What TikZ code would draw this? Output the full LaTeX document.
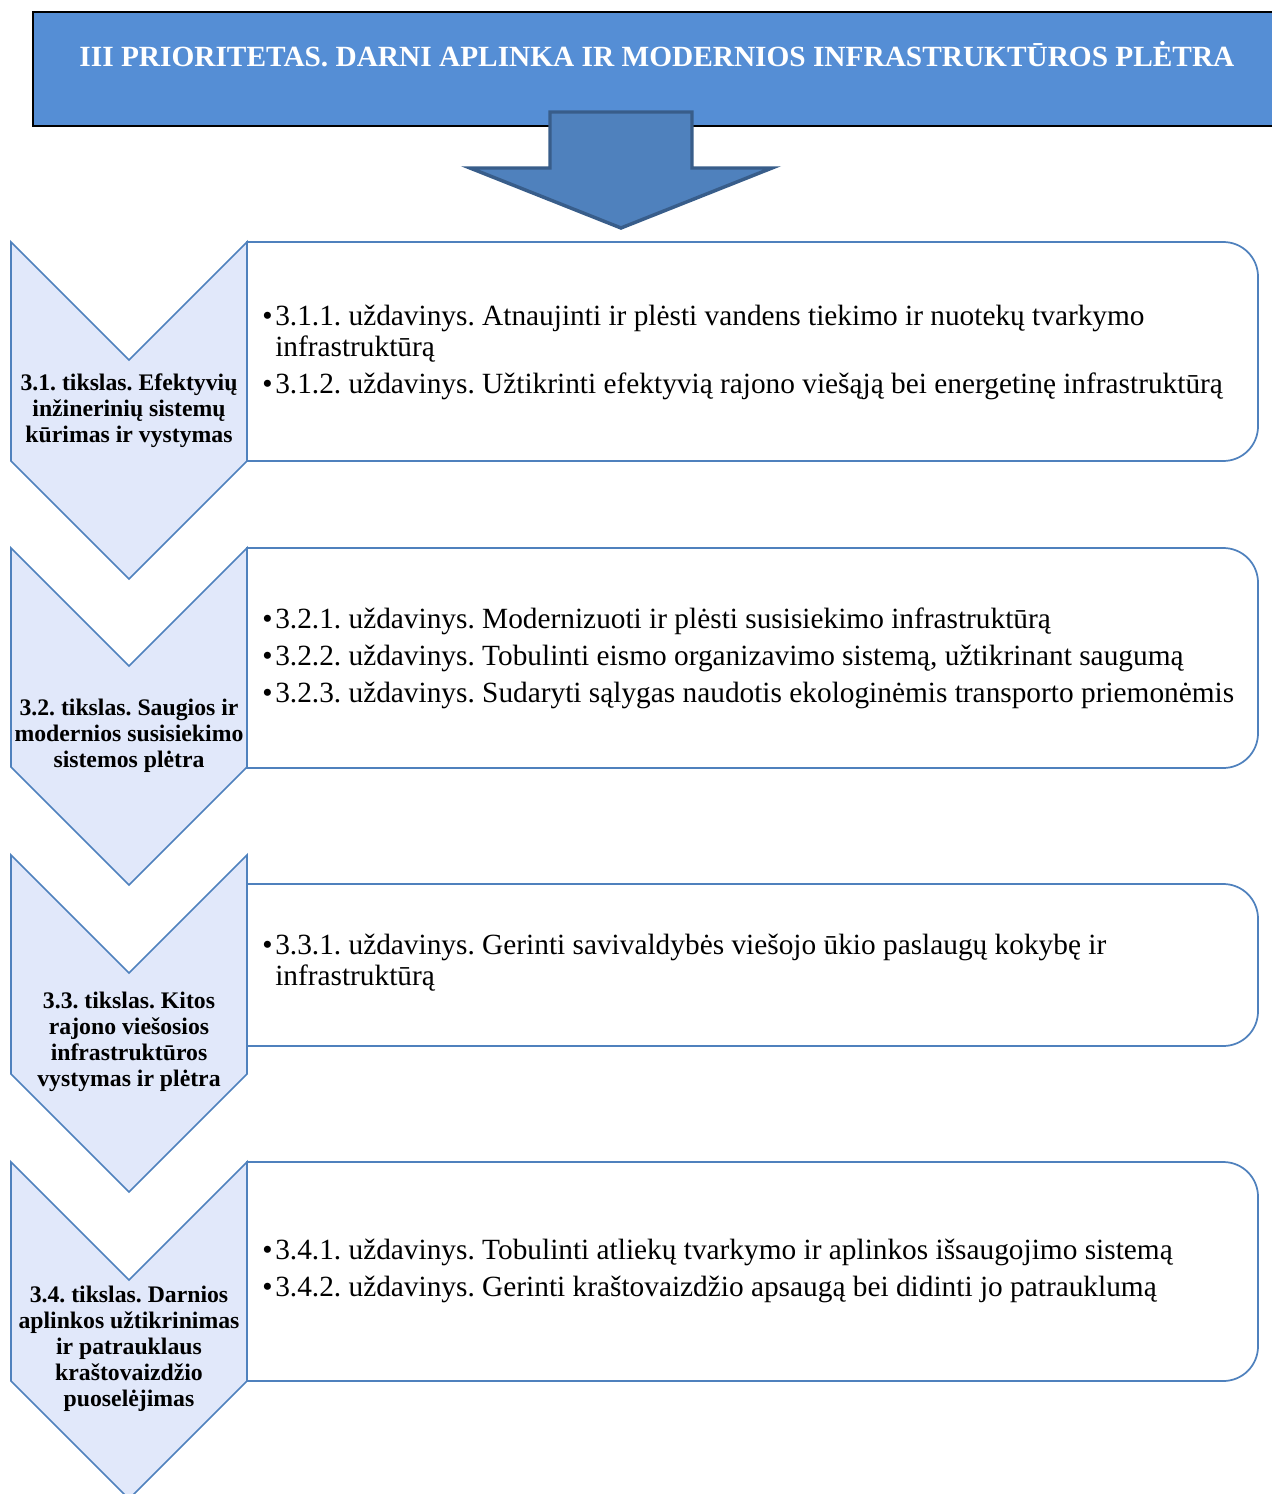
\documentclass[tikz,border=0pt]{standalone}
\usepackage{fontspec}
\setmainfont{Liberation Serif}
\usetikzlibrary{positioning}
\definecolor{headblue}{RGB}{85,142,213}
\definecolor{arrowblue}{RGB}{79,129,189}
\definecolor{arrowdark}{RGB}{56,93,138}
\definecolor{chevfill}{RGB}{225,232,250}
\tikzstyle{head}=[draw=black,fill=headblue,line width=1pt]
\tikzstyle{bigarrow}=[draw=arrowdark,fill=arrowblue,line width=2.6pt,line join=miter]
\tikzstyle{chev}=[draw=arrowblue,fill=chevfill,line width=1.3pt,line join=miter]
\tikzstyle{tbox}=[draw=arrowblue,fill=white,line width=1.3pt]
\tikzstyle{title}=[text=white,font=\bfseries\fontsize{22}{26}\selectfont,inner sep=0pt]
\tikzstyle{goal}=[align=center,font=\bfseries\fontsize{17.8}{19.5}\selectfont,inner sep=0pt]
\tikzstyle{task}=[align=left,anchor=west,font=\fontsize{22}{23.25}\selectfont,inner sep=0pt]
\newcommand{\bul}{\makebox[9.75pt][l]{\textbullet}}
\newcommand{\hang}{\hspace*{9.75pt}}
\frenchspacing

\begin{document}
\begin{tikzpicture}[x=0.75pt,y=-0.75pt]
  \useasboundingbox (0,0) rectangle (1271,1494);

  % priority header and arrow
  \draw[head] (33,12) rectangle (1290,126);
  \node[title] (prio) at (657,54) {III PRIORITETAS. DARNI APLINKA IR MODERNIOS INFRASTRUKTŪROS PLĖTRA};
  \draw[bigarrow] (550,112) -- (692,112) -- (692,168) -- (772,168) -- (621,228) -- (470,168) -- (550,168) -- cycle;

  % task boxes
  \foreach \t/\b in {242/461,548/768,884/1046,1162/1381}
    \draw[tbox] (247,\b) -- (247,\t) [rounded corners=26pt] -- (1258,\t) -- (1258,\b) [sharp corners] -- cycle;

  % goal chevrons
  \foreach \t in {242,548,855,1162}
    \draw[chev] (11,\t) -- (129,\t+118) -- (247,\t) -- (247,\t+219) -- (129,\t+337) -- (11,\t+219) -- cycle;

  \node[goal] (g1) at (129,411) {3.1. tikslas. Efektyvių\\inžinerinių sistemų\\kūrimas ir vystymas};
  \node[goal] (g2) at (129,736) {3.2. tikslas. Saugios ir\\modernios susisiekimo\\sistemos plėtra};
  \node[goal] (g3) at (129,1042) {3.3. tikslas. Kitos\\rajono viešosios\\infrastruktūros\\vystymas ir plėtra};
  \node[goal] (g4) at (129,1349) {3.4. tikslas. Darnios\\aplinkos užtikrinimas\\ir patrauklaus\\kraštovaizdžio\\puoselėjimas};

  \node[task] (t1) at (262,352) {\bul 3.1.1. uždavinys. Atnaujinti ir plėsti vandens tiekimo ir nuotekų tvarkymo\\\hang infrastruktūrą\\[4.5pt]\bul 3.1.2. uždavinys. Užtikrinti efektyvią rajono viešąją bei energetinę infrastruktūrą};
  \node[task] (t2) at (262,658) {\bul 3.2.1. uždavinys. Modernizuoti ir plėsti susisiekimo infrastruktūrą\\[4.5pt]\bul 3.2.2. uždavinys. Tobulinti eismo organizavimo sistemą, užtikrinant saugumą\\[4.5pt]\bul 3.2.3. uždavinys. Sudaryti sąlygas naudotis ekologinėmis transporto priemonėmis};
  \node[task] (t3) at (262,963) {\bul 3.3.1. uždavinys. Gerinti savivaldybės viešojo ūkio paslaugų kokybę ir\\\hang infrastruktūrą};
  \node[task] (t4) at (262,1271) {\bul 3.4.1. uždavinys. Tobulinti atliekų tvarkymo ir aplinkos išsaugojimo sistemą\\[4.5pt]\bul 3.4.2. uždavinys. Gerinti kraštovaizdžio apsaugą bei didinti jo patrauklumą};

\end{tikzpicture}
\end{document}
